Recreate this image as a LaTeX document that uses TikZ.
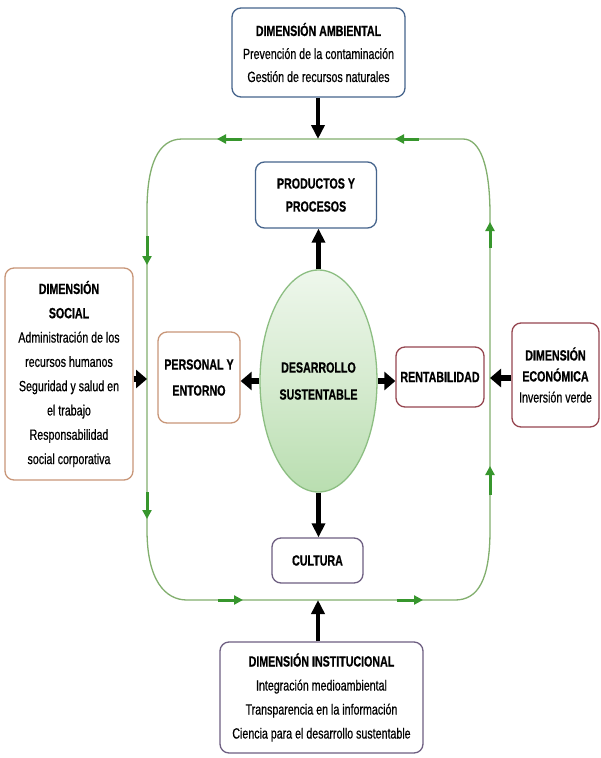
\documentclass[tikz,border=0pt]{standalone}
\usepackage{fontspec}
\setmainfont[FakeStretch=0.72,UprightFeatures={FakeBold=0.5},BoldFeatures={FakeBold=0.7}]{Liberation Sans}
\usetikzlibrary{shapes.geometric,arrows.meta}
\definecolor{cblue}{RGB}{70,100,140}
\definecolor{ctan}{RGB}{200,150,120}
\definecolor{cred}{RGB}{150,70,80}
\definecolor{cpurp}{RGB}{110,95,130}
\definecolor{gline}{RGB}{130,175,110}
\definecolor{garr}{RGB}{55,150,45}
\definecolor{ellb}{RGB}{140,190,130}
\definecolor{elltop}{RGB}{238,247,236}
\definecolor{ellmid}{RGB}{214,235,208}
\definecolor{ellbot}{RGB}{185,222,176}
\begin{document}
\begin{tikzpicture}[x=1pt,y=-1pt,
  box/.style={draw,rounded corners=9pt,line width=1.3pt,fill=white,align=center,inner sep=0pt,font=\fontsize{14.8}{23}\selectfont},
  varr/.style={line width=4.5pt,-{Triangle[width=13pt,length=14pt]}},
  harr/.style={line width=6pt,-{Triangle[width=18pt,length=11pt]}},
  loopline/.style={draw=gline,line width=1.3pt},
  garrow/.style={draw=garr,line width=3pt,-{Triangle[width=9pt,length=9pt]}}]
\useasboundingbox[fill=white] (0,0) rectangle (600,758);

% green loop
\draw[loopline] (182,139) -- (463,139) .. controls (480,139) and (490,165) .. (490,215)
  -- (490,530) .. controls (490,580) and (478,600) .. (455,600)
  -- (187,600) .. controls (165,600) and (147,580) .. (147,530)
  -- (147,210) .. controls (147,165) and (158,139) .. (182,139) -- cycle;
\coordinate (ltop) at (318,139);
\coordinate (lbot) at (318,600);
\coordinate (lleft) at (147,379);
\coordinate (lright) at (490,378);

% green arrows on loop
\draw[garrow] (242,139) -- (217,139);
\draw[garrow] (419,139) -- (395,139);
\draw[garrow] (147,236) -- (147,265);
\draw[garrow] (147,492) -- (147,519);
\draw[garrow] (490,248) -- (490,222);
\draw[garrow] (490,495) -- (490,466);
\draw[garrow] (218,600) -- (243,600);
\draw[garrow] (397,600) -- (423,600);

% boxes
\node[box,draw=cblue,minimum width=173pt,minimum height=89pt] (amb) at (318.5,52.5)
  {\textbf{DIMENSIÓN AMBIENTAL}\\Prevención de la contaminación\\Gestión de recursos naturales};
\node[box,draw=cblue,minimum width=121pt,minimum height=66pt] (prod) at (316,195)
  {\textbf{PRODUCTOS Y}\\\textbf{PROCESOS}};
\node[box,draw=ctan,minimum width=82pt,minimum height=91pt,font=\fontsize{14.8}{26}\selectfont] (pers) at (199,377.5)
  {\textbf{PERSONAL Y}\\\textbf{ENTORNO}};
\node[box,draw=cred,minimum width=88pt,minimum height=60pt] (rent) at (440,377)
  {\textbf{RENTABILIDAD}};
\node[box,draw=ctan,minimum width=128pt,minimum height=212pt,font=\fontsize{14.8}{24.3}\selectfont] (soc) at (69,374)
  {\textbf{DIMENSIÓN}\\\textbf{SOCIAL}\\Administración de los\\recursos humanos\\Seguridad y salud en\\el trabajo\\Responsabilidad\\social corporativa};
\node[box,draw=cred,minimum width=87pt,minimum height=104pt,font=\fontsize{14.8}{21}\selectfont] (eco) at (555.5,375)
  {\textbf{DIMENSIÓN}\\\textbf{ECONÓMICA}\\Inversión verde};
\node[box,draw=cpurp,minimum width=91pt,minimum height=45pt] (cult) at (317.5,560.5)
  {\textbf{CULTURA}};
\node[box,draw=cpurp,minimum width=203pt,minimum height=111pt,font=\fontsize{14.8}{24}\selectfont] (inst) at (321.5,697.5)
  {\textbf{DIMENSIÓN INSTITUCIONAL}\\Integración medioambiental\\Transparencia en la información\\Ciencia para el desarrollo sustentable};
\node[ellipse,draw=ellb,line width=1.3pt,top color=elltop,bottom color=ellbot,middle color=ellmid,minimum width=117pt,minimum height=222pt,inner sep=0pt,align=center,font=\fontsize{14.8}{27}\selectfont] (ds) at (318.5,381)
  {\textbf{DESARROLLO}\\\textbf{SUSTENTABLE}};

% black arrows
\draw[varr] (amb.south -| ltop) -- (ltop);
\draw[varr] (ds.north) -- (ds.north |- prod.south);
\draw[varr] (ds.south) -- (ds.south |- cult.north);
\draw[varr] (inst.north -| lbot) -- (lbot);
\draw[harr] (ds.west) -- (ds.west -| pers.east);
\draw[harr] (ds.east) -- (ds.east -| rent.west);
\draw[harr] (soc.east |- lleft) -- (lleft);
\draw[harr] (eco.west |- lright) -- (lright);
\end{tikzpicture}
\end{document}
